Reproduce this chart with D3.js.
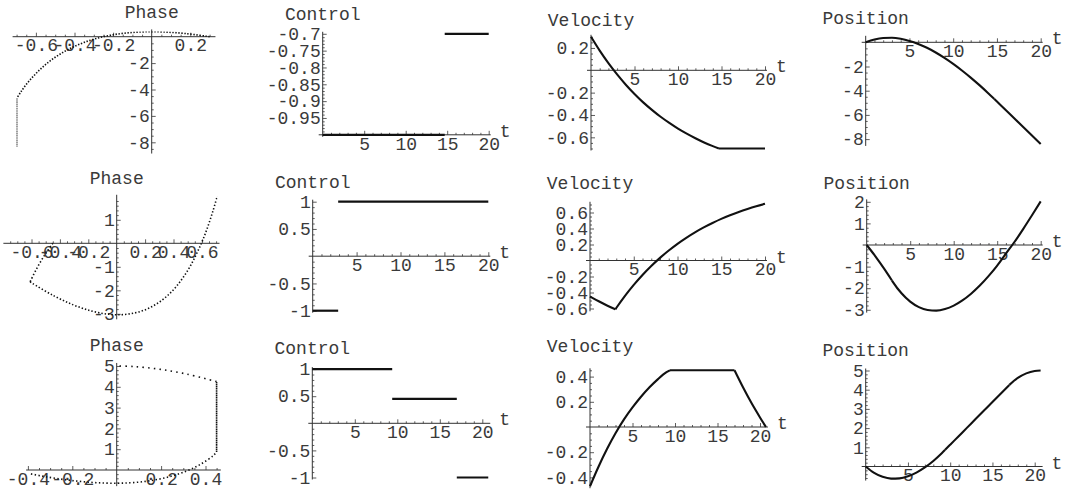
<!DOCTYPE html>
<html>
<head>
<meta charset="utf-8">
<script src="https://cdn.jsdelivr.net/npm/d3@7"></script>
<style>
  html, body { margin: 0; padding: 0; background: #fff; }
  svg { display: block; }
  text { font-family: "Liberation Mono", "Courier New", monospace; font-size: 18px; fill: #3a3a3a; }
</style>
</head>
<body>
<svg id="chart" width="1068" height="493"></svg>
<script>
// ---- Case 1: control switches at t = 14.7 ----
const time1     = [0, 1, 2, 3, 4, 5, 6, 7, 8, 9, 10, 11, 12, 13, 14, 14.7, 15, 16, 17, 18, 19, 20];
const velocity1 = [0.300, 0.176, 0.064, -0.037, -0.129, -0.212, -0.287, -0.354, -0.416, -0.471, -0.522, -0.567, -0.608, -0.646, -0.679, -0.700, -0.700, -0.700, -0.700, -0.700, -0.700, -0.700];
const position1 = [0, 0.238, 0.357, 0.370, 0.286, 0.116, -0.134, -0.456, -0.841, -1.286, -1.783, -2.328, -2.916, -3.542, -4.206, -4.689, -4.899, -5.599, -6.299, -6.999, -7.699, -8.399];
const switches1 = [14.7];
const ctrlStart1 = [0, 14.7];
const ctrlEnd1   = [14.7, 20];
const ctrlLevel1 = [-1, -0.7];

// ---- Case 2: bang-bang, switch at t = 2.9 ----
const time2     = [0, 1, 2, 2.9, 3, 4, 5, 6, 7, 8, 9, 10, 11, 12, 13, 14, 15, 16, 17, 18, 19, 20];
const velocity2 = [-0.450, -0.510, -0.565, -0.610, -0.594, -0.442, -0.305, -0.181, -0.069, 0.033, 0.125, 0.209, 0.284, 0.352, 0.414, 0.469, 0.520, 0.566, 0.607, 0.644, 0.678, 0.709];
const position2 = [0, -0.524, -1.094, -1.642, -1.704, -2.236, -2.622, -2.877, -3.010, -3.038, -2.966, -2.809, -2.568, -2.257, -1.880, -1.443, -0.953, -0.400, 0.150, 0.750, 1.380, 2.020];
const switches2 = [2.9];
const ctrlStart2 = [0, 2.9];
const ctrlEnd2   = [2.9, 20];
const ctrlLevel2 = [-1, 1];

// ---- Case 3: accelerate, cruise, brake to rest at x = 5 ----
const time3     = [0, 1, 2, 3, 4, 5, 6, 7, 8, 9, 9.4, 10, 11, 12, 13, 14, 15, 16, 17, 18, 19, 20, 20.7];
const velocity3 = [-0.470, -0.315, -0.175, -0.050, 0.060, 0.155, 0.240, 0.315, 0.380, 0.435, 0.450, 0.450, 0.450, 0.450, 0.450, 0.450, 0.450, 0.450, 0.450, 0.315, 0.190, 0.076, 0];
const position3 = [0, -0.333, -0.538, -0.629, -0.616, -0.509, -0.317, -0.048, 0.290, 0.692, 0.868, 1.135, 1.580, 2.025, 2.470, 2.915, 3.360, 3.805, 4.250, 4.612, 4.850, 4.975, 5.000];
const switches3 = [9.4, 17];
const ctrlStart3 = [0, 9.4, 17];
const ctrlEnd3   = [9.4, 17, 20.7];
const ctrlLevel3 = [1, 0.45, -1];

// ---- tick marks on the time axes ----
const tTicks = [5, 10, 15, 20];

const cases = [
  { time: time1, vel: velocity1, pos: position1, sw: switches1, cs: ctrlStart1, ce: ctrlEnd1, cl: ctrlLevel1 },
  { time: time2, vel: velocity2, pos: position2, sw: switches2, cs: ctrlStart2, ce: ctrlEnd2, cl: ctrlLevel2 },
  { time: time3, vel: velocity3, pos: position3, sw: switches3, cs: ctrlStart3, ce: ctrlEnd3, cl: ctrlLevel3 }
];

// Panel geometry: origin pixel (ox, oy), pixels per unit (kx, ky);
// phase panels carry their own plot range, points outside it are clipped
const layout = [
  [
    { type: "phase",    ox: 151.7, kx: 193,  oy: 36.7,   ky: 13.2,  titleY: 18.2,
      xRange: [-0.70, 0.32], yRange: [-8.7, 0.4],
      xTicks: [-0.6, -0.4, -0.2, 0.2], xMinor: 0.05, yTicks: [-8, -6, -4, -2], yMinor: 0.5,
      dash: ["1.4,1.6", "1.3,0.5"] },
    { type: "control",  ox: 322.7, kx: 8.3,  oy: -201.9, ky: 336.7, titleY: 19.5,
      yTicks: [-0.95, -0.9, -0.85, -0.8, -0.75, -0.7], yMinor: 0.01 },
    { type: "velocity", ox: 591,   kx: 8.7,  oy: 70.3,   ky: 111.7, titleY: 26.2,
      yTicks: [-0.6, -0.4, -0.2, 0.2], yMinor: 0.05 },
    { type: "position", ox: 865.7, kx: 8.75, oy: 42.3,   ky: 12.1,  titleY: 23.8,
      yTicks: [-8, -6, -4, -2], yMinor: 0.5 }
  ],
  [
    { type: "phase",    ox: 116.7, kx: 142,  oy: 243.3,  ky: 23.5,  titleY: 183.8,
      xRange: [-0.77, 0.71], yRange: [-3.15, 1.98],
      xTicks: [-0.6, -0.4, -0.2, 0.2, 0.4, 0.6], xMinor: 0.05, yTicks: [-3, -2, -1, 1], yMinor: 0.2,
      dash: ["1.4,2.2", "1.4,2.0"] },
    { type: "control",  ox: 312.7, kx: 8.78, oy: 256.2,  ky: 54.5,  titleY: 187.8,
      yTicks: [-1, -0.5, 0.5, 1], yMinor: 0.1 },
    { type: "velocity", ox: 590,   kx: 8.75, oy: 260.5,  ky: 80,    titleY: 188.8,
      yTicks: [-0.6, -0.4, -0.2, 0.2, 0.4, 0.6], yMinor: 0.05 },
    { type: "position", ox: 866.7, kx: 8.7,  oy: 245,    ky: 21.6,  titleY: 188.8,
      yTicks: [-3, -2, -1, 1, 2], yMinor: 0.2 }
  ],
  [
    { type: "phase",    ox: 116.7, kx: 222,  oy: 470,    ky: 20.8,  titleY: 350.5,
      xRange: [-0.39, 0.46], yRange: [-0.68, 5.05],
      xTicks: [-0.4, -0.2, 0.2, 0.4], xMinor: 0.05, yTicks: [1, 2, 3, 4, 5], yMinor: 0.2,
      dash: ["1.4,2.4", "1.3,0.5", "1.5,4.2"] },
    { type: "control",  ox: 312.3, kx: 8.5,  oy: 423.3,  ky: 54.2,  titleY: 353.8,
      yTicks: [-1, -0.5, 0.5, 1], yMinor: 0.1 },
    { type: "velocity", ox: 590,   kx: 8.5,  oy: 427,    ky: 126,   titleY: 352.2,
      yTicks: [-0.4, -0.2, 0.2, 0.4], yMinor: 0.05 },
    { type: "position", ox: 865.7, kx: 8.45, oy: 466.5,  ky: 19.2,  titleY: 356.2,
      yTicks: [1, 2, 3, 4, 5], yMinor: 0.2 }
  ]
];

const titles = { phase: "Phase", control: "Control", velocity: "Velocity", position: "Position" };

const svg = d3.select("#chart");
const defs = svg.append("defs");
const fmt = d => String(+d.toFixed(2));
const INK = "#333";
let clipId = 0;

function minorValues(dom, step, majors) {
  const lo = Math.ceil(dom[0] / step - 1e-6), hi = Math.floor(dom[1] / step + 1e-6);
  return d3.range(lo, hi + 1).map(i => +(i * step).toFixed(4))
    .filter(v => Math.abs(v) > 1e-9 && !majors.some(m => Math.abs(m - v) < 1e-6));
}

// split a time series into pieces at the control switching times
function pieces(time, vals, sw) {
  const bounds = [time[0], ...sw, time[time.length - 1]];
  const out = [];
  for (let k = 0; k < bounds.length - 1; k++) {
    const pts = [];
    time.forEach((t, i) => { if (t >= bounds[k] - 1e-9 && t <= bounds[k + 1] + 1e-9) pts.push({ t, i, v: vals[i] }); });
    out.push(pts);
  }
  return out;
}

function drawPanel(cfg, data) {
  const g = svg.append("g");
  let xDom, yDom;
  if (cfg.type === "phase") {
    xDom = cfg.xRange || d3.extent(data.vel);
    yDom = cfg.yRange || d3.extent(data.pos);
  } else {
    const tEnd = data.time[data.time.length - 1];
    xDom = [0, tEnd];
    if (cfg.type === "control") yDom = d3.extent(data.cl);
    else if (cfg.type === "velocity") yDom = d3.extent(data.vel);
    else yDom = d3.extent(data.pos);
  }
  const x = d3.scaleLinear().domain(xDom).range(xDom.map(v => cfg.ox + cfg.kx * v));
  const y = d3.scaleLinear().domain(yDom).range(yDom.map(v => cfg.oy - cfg.ky * v));

  // axes cross at the origin, or at the lowest value when 0 is out of range
  const yCross = (yDom[0] <= 0 && yDom[1] >= 0) ? 0 : yDom[0];
  const axY = y(yCross), axX = x(0);

  g.append("line").attr("x1", x(xDom[0]) - 4).attr("x2", x(xDom[1]) + 2)
    .attr("y1", axY).attr("y2", axY).attr("stroke", INK).attr("stroke-width", 1);
  g.append("line").attr("x1", axX).attr("x2", axX)
    .attr("y1", y(yDom[0]) + 2).attr("y2", y(yDom[1]) - 2).attr("stroke", INK).attr("stroke-width", 1);

  const xTicks = cfg.type === "phase" ? cfg.xTicks : tTicks;
  const xMinorStep = cfg.type === "phase" ? cfg.xMinor : 1;

  // x axis: major ticks with labels, minor ticks without
  const gx = g.append("g").attr("transform", `translate(0,${axY})`).attr("color", INK);
  gx.call(d3.axisBottom(x).tickValues(xTicks).tickSizeInner(-4).tickSizeOuter(0).tickPadding(2).tickFormat(fmt));
  gx.append("g").call(d3.axisBottom(x).tickValues(minorValues(xDom, xMinorStep, xTicks))
    .tickSizeInner(-2).tickSizeOuter(0).tickFormat(() => ""));
  gx.selectAll(".domain").remove();
  gx.selectAll("line").attr("stroke-width", 0.8);

  // y axis
  const gy = g.append("g").attr("transform", `translate(${axX},0)`).attr("color", INK);
  gy.call(d3.axisLeft(y).tickValues(cfg.yTicks).tickSizeInner(-4).tickSizeOuter(0).tickPadding(2).tickFormat(fmt));
  gy.append("g").call(d3.axisLeft(y).tickValues(minorValues(yDom, cfg.yMinor, cfg.yTicks))
    .tickSizeInner(-2).tickSizeOuter(0).tickFormat(() => ""));
  gy.selectAll(".domain").remove();
  gy.selectAll("line").attr("stroke-width", 0.8);

  // axis labels: variable name above the vertical axis, "t" after the time axis
  g.append("text").attr("x", axX).attr("y", cfg.titleY).attr("text-anchor", "middle").text(titles[cfg.type]);
  if (cfg.type !== "phase") {
    g.append("text").attr("x", x(xDom[1]) + 11).attr("y", axY + 2).text("t");
  }

  if (cfg.type === "phase") {
    const id = "plotrange" + (clipId++);
    defs.append("clipPath").attr("id", id).append("rect")
      .attr("x", x(xDom[0])).attr("y", y(yDom[1]))
      .attr("width", x(xDom[1]) - x(xDom[0])).attr("height", y(yDom[0]) - y(yDom[1]));
    const gc = g.append("g").attr("clip-path", `url(#${id})`);
    const line = d3.line().x(d => x(data.vel[d.i])).y(d => y(data.pos[d.i])).curve(d3.curveCatmullRom.alpha(0.5));
    pieces(data.time, data.vel, data.sw).forEach((pts, k) => {
      gc.append("path").attr("d", line(pts)).attr("fill", "none").attr("stroke", "#111")
        .attr("stroke-width", 1.6).attr("stroke-dasharray", cfg.dash[k]);
    });
  } else if (cfg.type === "control") {
    data.cs.forEach((s, k) => {
      g.append("line").attr("x1", x(s)).attr("x2", x(data.ce[k]))
        .attr("y1", y(data.cl[k])).attr("y2", y(data.cl[k]))
        .attr("stroke", "#111").attr("stroke-width", 2.2);
    });
  } else {
    const vals = cfg.type === "velocity" ? data.vel : data.pos;
    const line = d3.line().x(d => x(d.t)).y(d => y(d.v)).curve(d3.curveMonotoneX);
    pieces(data.time, vals, data.sw).forEach(pts => {
      g.append("path").attr("d", line(pts)).attr("fill", "none").attr("stroke", "#111")
        .attr("stroke-width", 2.1).attr("stroke-linejoin", "round");
    });
  }
}

layout.forEach((row, r) => row.forEach(cfg => drawPanel(cfg, cases[r])));
</script>
</body>
</html>
